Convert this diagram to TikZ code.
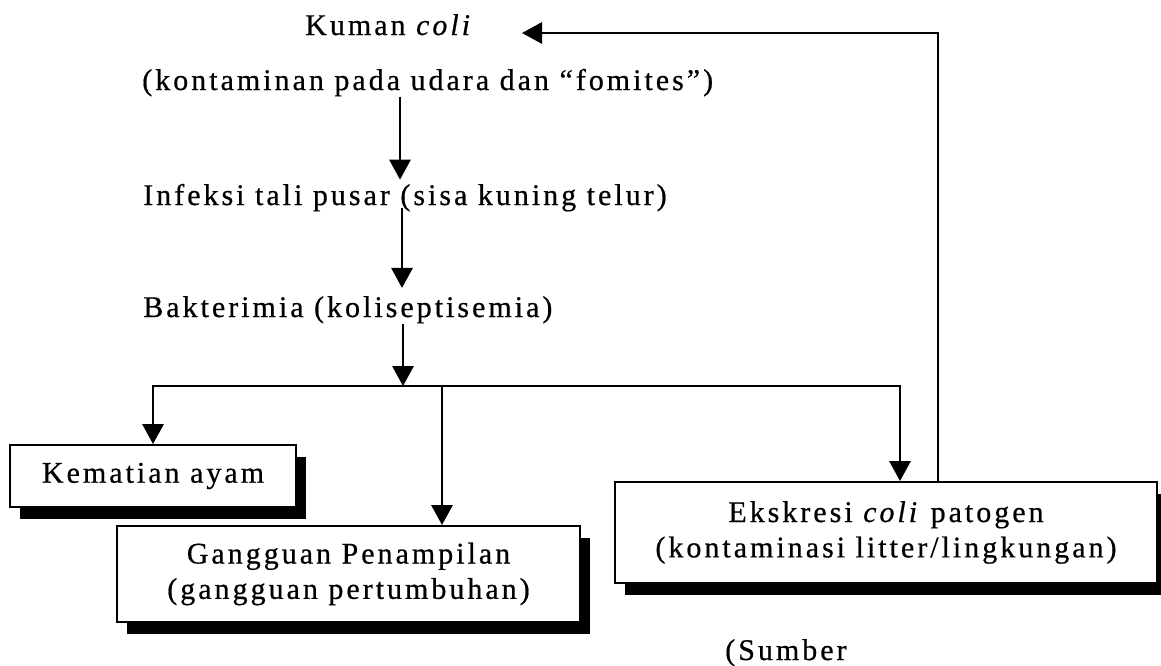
\documentclass[tikz,border=0pt]{standalone}
\usepackage{fontspec}
\setmainfont{Liberation Serif}[LetterSpace=10,FakeBold=0.6]
\usetikzlibrary{arrows.meta,shadows}
\begin{document}
\begin{tikzpicture}[x=0.75pt,y=-0.75pt,
  font=\fontsize{22.5pt}{26.5pt}\selectfont,
  txt/.style={inner sep=0pt,anchor=base west},
  box/.style={draw,line width=1.5pt,fill=white,align=center,inner sep=0pt,
    drop shadow={shadow xshift=7.5pt,shadow yshift=-9pt,fill=black,opacity=1}},
  arr/.style={line width=1.5pt,-{Triangle[length=15pt,width=16pt]}},
  ln/.style={line width=1.5pt,line cap=rect}]
\useasboundingbox (0,0) rectangle (1161,665);
\node[txt] (kuman) at (305,35) {Kuman \textit{coli}};
\node[txt] (kontam) at (142,90) {(kontaminan pada udara dan “fomites”)};
\node[txt] (infeksi) at (143,205) {Infeksi tali pusar (sisa kuning telur)};
\node[txt] (bakt) at (143,317) {Bakterimia (koliseptisemia)};
\node[box,minimum width=214.5pt,minimum height=46.5pt] (kematian) at (153,476) {Kematian ayam};
\node[box,minimum width=347.25pt,minimum height=72pt] (gangguan) at (348.5,574) {Gangguan Penampilan\\(gangguan pertumbuhan)};
\node[box,minimum width=406.5pt,minimum height=75.75pt] (ekskresi) at (886,532.5) {Ekskresi \textit{coli} patogen\\(kontaminasi litter/lingkungan)};
\node[txt] (sumber) at (725,660) {(Sumber};
\coordinate (a1) at (400,0);
\coordinate (a2) at (402,0);
\coordinate (hub) at (403,386);
\coordinate (hl) at (153,386);
\coordinate (hg) at (442,386);
\coordinate (hr) at (900,386);
\coordinate (fb) at (938,0);
\coordinate (tipK) at (522,33);
\draw[arr,shorten >=3pt] (a1 |- kontam.south) -- (a1 |- infeksi.north);
\draw[arr,shorten <=-3pt,shorten >=6pt] (a2 |- infeksi.south) -- (a2 |- bakt.north);
\draw[arr] (hub |- bakt.south) -- (hub);
\draw[ln] (hl) -- (hr);
\draw[arr] (hl) -- (hl |- kematian.north);
\draw[arr] (hg) -- (hg |- gangguan.north);
\draw[arr] (hr) -- (hr |- ekskresi.north);
\draw[arr] (fb |- ekskresi.north) |- (tipK);
\end{tikzpicture}
\end{document}
